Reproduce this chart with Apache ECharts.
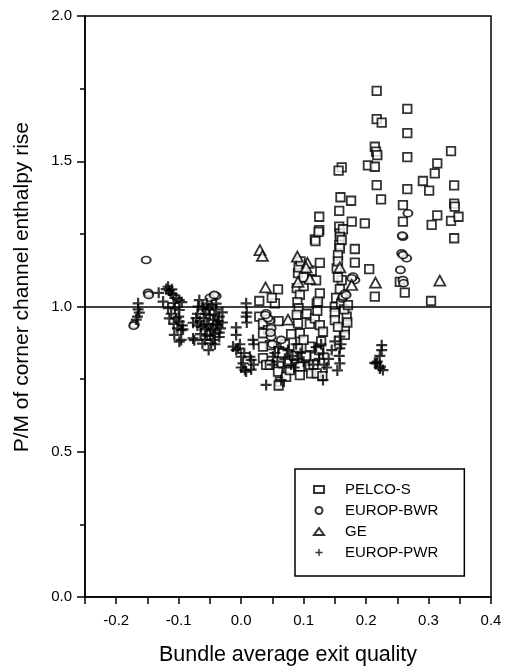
<!DOCTYPE html>
<html>
<head>
<meta charset="utf-8">
<script src="https://cdn.jsdelivr.net/npm/echarts@6/dist/echarts.min.js"></script>
<style>
  html, body { margin: 0; padding: 0; background: #fff; }
  #chart { width: 508px; height: 671px; }
</style>
</head>
<body>
<div id="chart"></div>
<script>
// Bundle average exit quality vs. P/M of corner channel enthalpy rise
const seriesNames = ['PELCO-S', 'EUROP-BWR', 'GE', 'EUROP-PWR'];
const xTicks = [-0.2, -0.1, 0.0, 0.1, 0.2, 0.3, 0.4];
const yTicks = [0.0, 0.5, 1.0, 1.5, 2.0];

const pelcoS = [
  [0.217,1.742],[0.266,1.680],[0.217,1.645],[0.225,1.633],[0.266,1.597],[0.214,1.550],[0.216,1.533],
  [0.218,1.521],[0.266,1.514],[0.336,1.535],[0.203,1.486],[0.214,1.481],[0.314,1.493],[0.310,1.458],
  [0.161,1.479],[0.156,1.468],[0.217,1.418],[0.266,1.404],[0.291,1.432],[0.301,1.399],[0.341,1.417],
  [0.159,1.376],[0.176,1.364],[0.224,1.369],[0.259,1.349],[0.341,1.354],[0.342,1.344],[0.125,1.309],
  [0.157,1.329],[0.177,1.292],[0.198,1.286],[0.259,1.292],[0.314,1.314],[0.305,1.281],[0.336,1.295],
  [0.348,1.309],[0.125,1.263],[0.157,1.275],[0.158,1.252],[0.163,1.266],[0.118,1.231],[0.341,1.235],
  [0.158,1.240],[0.157,1.212],[0.161,1.229],[0.158,1.200],[0.155,1.177],[0.153,1.131],[0.161,1.091],
  [0.155,1.155],[0.182,1.198],[0.182,1.151],[0.205,1.129],[0.214,1.034],[0.262,1.048],[0.254,1.085],
  [0.304,1.019],
  [0.029,1.019],[0.059,1.059],[0.054,1.011],[0.049,1.030],[0.029,0.965],[0.035,0.942],[0.043,0.919],
  [0.035,0.908],[0.046,0.867],[0.035,0.862],[0.035,0.822],[0.040,0.799],[0.046,0.799],[0.059,0.776],
  [0.062,0.741],[0.060,0.728],[0.072,0.758],[0.075,0.810],[0.078,0.781],[0.066,0.840],[0.070,0.870],
  [0.089,1.063],[0.094,1.040],[0.100,1.070],[0.091,1.115],[0.092,1.135],[0.095,1.155],[0.090,1.015],
  [0.092,0.994],[0.089,0.971],[0.091,0.942],[0.094,0.908],[0.110,0.940],[0.105,0.975],[0.091,0.856],
  [0.094,0.793],[0.094,0.764],[0.110,0.793],[0.112,0.770],[0.110,0.862],[0.113,1.123],[0.100,1.100],
  [0.100,0.885],[0.085,0.830],[0.104,0.830],[0.119,1.225],[0.126,1.045],[0.121,1.011],[0.123,1.017],
  [0.118,0.959],[0.126,0.936],[0.131,0.913],[0.118,0.827],[0.116,0.800],[0.121,0.770],[0.125,0.850],
  [0.128,0.880],[0.130,0.760],[0.120,1.090],[0.126,1.150],[0.124,1.257],[0.150,0.999],[0.150,0.977],
  [0.150,0.953],[0.169,0.965],[0.166,0.925],[0.166,0.902],[0.155,1.100],[0.158,1.060],[0.152,1.030],
  [0.160,1.010],[0.165,0.990],[0.155,0.930],[0.170,0.945],[0.171,1.005],[0.122,0.985],[0.080,0.905],
  [0.060,0.950]
];

const europBwr = [
  [-0.152,1.160],[-0.149,1.047],[-0.148,1.040],[-0.171,0.939],[-0.172,0.934],
  [-0.045,1.034],[-0.040,1.036],[-0.050,1.030],[-0.043,1.040],
  [0.040,0.977],[0.046,0.953],[0.048,0.925],[0.048,0.896],[0.064,0.885],[0.043,0.960],[0.039,0.971],
  [0.047,0.910],[0.050,0.870],
  [0.166,1.045],[0.162,1.028],[0.163,1.034],[0.168,1.040],[0.182,1.091],[0.179,1.103],[0.177,1.097],
  [0.259,1.240],[0.267,1.321],[0.258,1.244],[0.257,1.183],[0.265,1.166],[0.259,1.177],[0.255,1.126],
  [0.259,1.091],[0.260,1.080]
];

const ge = [
  [0.030,1.194],[0.034,1.174],[0.039,1.066],[0.090,1.172],[0.091,1.085],[0.106,1.150],[0.104,1.135],
  [0.110,1.095],[0.075,0.955],[0.158,1.135],[0.177,1.074],[0.215,1.082],[0.318,1.089]
];

const europPwr = [
  [-0.165,1.011],[-0.165,0.990],[-0.163,0.979],[-0.166,0.965],[-0.168,0.955],
  [-0.132,1.047],[-0.125,1.017],[-0.117,1.068],[-0.111,1.059],[-0.113,1.045],[-0.109,1.040],
  [-0.099,1.022],[-0.095,1.015],[-0.099,0.988],[-0.117,0.994],[-0.106,0.994],[-0.115,0.959],
  [-0.104,0.959],[-0.099,0.948],[-0.096,0.919],[-0.093,0.921],[-0.102,0.925],[-0.107,0.902],
  [-0.096,0.885],[-0.099,0.879],[-0.077,0.890],[-0.075,0.884],[-0.067,1.022],[-0.077,0.944],
  [-0.064,0.930],[-0.052,0.850],[-0.048,0.873],[-0.069,1.000],[-0.060,0.990],[-0.055,1.010],
  [-0.050,0.970],[-0.045,0.955],[-0.040,0.990],[-0.035,0.965],[-0.060,0.960],[-0.055,0.940],
  [-0.045,0.925],[-0.038,0.935],[-0.065,0.905],[-0.050,0.900],[-0.042,0.905],[-0.035,0.910],
  [-0.058,0.885],[-0.045,0.885],[-0.070,0.975],[-0.040,1.010],[-0.030,0.980],[-0.030,0.945],
  [-0.120,1.060],[-0.115,1.055],
  [-0.062,1.000],[-0.057,0.975],[-0.052,0.992],[-0.047,1.005],[-0.043,0.972],[-0.037,0.950],
  [-0.066,0.950],[-0.058,0.922],[-0.052,0.935],[-0.040,0.940],[-0.033,0.925],[-0.048,0.918],
  [-0.055,0.900],[-0.042,0.870],[-0.035,0.895],[-0.062,0.872],[-0.070,0.935],[-0.072,0.960],
  [-0.108,1.012],[-0.104,1.030],[-0.112,0.975],[-0.100,0.965],[-0.094,0.935],[-0.108,0.940],
  [0.008,1.011],[0.009,0.979],[0.008,0.965],[0.009,0.945],[-0.008,0.928],[-0.008,0.902],
  [-0.013,0.862],[-0.008,0.850],[0.000,0.827],[0.003,0.804],[0.000,0.790],[0.008,0.776],
  [0.019,0.885],[0.020,0.870],[0.016,0.816],[0.020,0.800],[0.016,0.783],[0.040,0.730],
  [0.014,0.827],[0.006,0.781],[-0.005,0.855],[0.005,0.840],[-0.002,0.870],
  [0.051,0.827],[0.054,0.840],[0.050,0.800],[0.064,0.747],[0.058,0.810],[0.070,0.820],
  [0.075,0.850],[0.080,0.800],[0.085,0.790],[0.068,0.790],[0.060,0.860],[0.082,0.830],
  [0.090,0.820],[0.095,0.840],[0.088,0.870],[0.100,0.810],
  [0.131,0.839],[0.133,0.800],[0.131,0.747],[0.125,0.820],[0.128,0.870],[0.140,0.820],
  [0.137,0.790],[0.158,0.896],[0.158,0.856],[0.157,0.830],[0.158,0.804],[0.150,0.880],
  [0.120,0.860],[0.115,0.800],[0.145,0.850],[0.160,0.870],[0.154,0.780],
  [0.225,0.867],[0.225,0.850],[0.222,0.830],[0.216,0.804],[0.218,0.810],[0.223,0.793],
  [0.227,0.781],[0.214,0.806],[0.222,0.787]
];

const FONT = '"Liberation Sans", Arial, Helvetica, sans-serif';
// plus sign drawn as two filled bars
const PLUS = 'path://M4,0h2v10h-2z M0,4h10v2h-10z';
const ink = '#000';

const hollow = { color: '#fff', borderColor: ink, borderWidth: 1.8 };

const chart = echarts.init(document.getElementById('chart'), null, { renderer: 'canvas' });

const fmt1 = v => (Math.abs(v) < 1e-9 ? 0 : v).toFixed(1);
const onTick = (v, list) => list.some(t => Math.abs(t - v) < 1e-6);

chart.setOption({
  animation: false,
  backgroundColor: '#fff',
  textStyle: { fontFamily: FONT, color: ink },
  grid: { left: 85, right: 17, top: 16, bottom: 74, show: true, borderColor: ink, borderWidth: 1.5, backgroundColor: 'transparent' },
  xAxis: {
    type: 'value', min: -0.25, max: 0.4, interval: 0.05,
    name: 'Bundle average exit quality', nameLocation: 'middle', nameGap: 47,
    nameTextStyle: { fontSize: 21.5, fontFamily: FONT, color: ink },
    axisLine: { onZero: false, lineStyle: { color: ink, width: 1.5 } },
    axisTick: { show: true, length: 7, lineStyle: { color: ink, width: 1.5 } },
    axisLabel: {
      fontSize: 15, fontFamily: FONT, color: ink, margin: 16,
      formatter: v => onTick(v, xTicks) ? fmt1(v) : ''
    },
    splitLine: { show: false }
  },
  yAxis: {
    type: 'value', min: 0, max: 2, interval: 0.5,
    axisLine: { onZero: false, lineStyle: { color: ink, width: 1.5 } },
    axisTick: { show: true, length: 8, lineStyle: { color: ink, width: 1.5 } },
    minorTick: { show: true, splitNumber: 2, length: 5, lineStyle: { color: ink, width: 1.5 } },
    axisLabel: {
      fontSize: 15, fontFamily: FONT, color: ink, margin: 13,
      formatter: v => onTick(v, yTicks) ? fmt1(v) : ''
    },
    splitLine: { show: false }
  },
  legend: {
    orient: 'vertical', left: 295, top: 469,
    padding: [12, 26, 15, 18],
    backgroundColor: '#fff',
    borderColor: ink, borderWidth: 1.5,
    itemWidth: 10, itemHeight: 7, itemGap: 4,
    textStyle: { fontSize: 15, fontFamily: FONT, color: ink, padding: [0, 0, 0, 16], lineHeight: 17 },
    data: [
      { name: seriesNames[0], icon: 'rect' },
      { name: seriesNames[1], icon: 'circle' },
      { name: seriesNames[2], icon: 'triangle' },
      { name: seriesNames[3], icon: PLUS, itemStyle: { color: ink, borderWidth: 0 } }
    ]
  },
  graphic: [{
    type: 'text', left: 12, top: 122, rotation: Math.PI / 2,
    style: { text: 'P/M of corner channel enthalpy rise', fontSize: 21, fontFamily: FONT, fill: ink }
  }],
  series: [
    {
      name: seriesNames[0], type: 'scatter', data: pelcoS,
      symbol: 'rect', symbolSize: 8.5, itemStyle: hollow, z: 3,
      markLine: {
        silent: true, symbol: 'none', animation: false,
        label: { show: false },
        lineStyle: { color: ink, width: 1.5, type: 'solid' },
        data: [{ yAxis: 1.0 }]
      }
    },
    {
      name: seriesNames[1], type: 'scatter', data: europBwr,
      symbol: 'circle', symbolSize: [9, 7], itemStyle: hollow, z: 3
    },
    {
      name: seriesNames[2], type: 'scatter', data: ge,
      symbol: 'triangle', symbolSize: [11, 10], itemStyle: hollow, z: 3
    },
    {
      name: seriesNames[3], type: 'scatter', data: europPwr,
      symbol: PLUS, symbolSize: 11, itemStyle: { color: ink, borderWidth: 0 }, z: 3
    }
  ]
});
</script>
</body>
</html>
